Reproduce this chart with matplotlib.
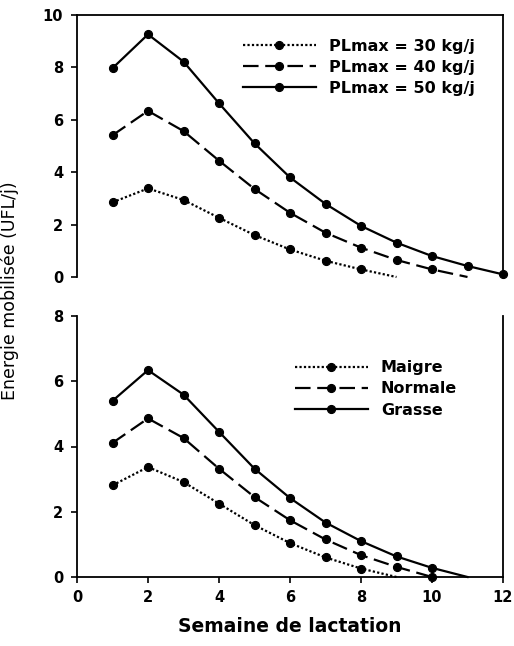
import matplotlib
matplotlib.use("Agg")
import matplotlib.pyplot as plt

# ---- data ----
top_labels = ["PLmax = 30 kg/j", "PLmax = 40 kg/j", "PLmax = 50 kg/j"]
top_x30 = [1, 2, 3, 4, 5, 6, 7, 8, 9]
top_y30 = [2.85, 3.38, 2.94, 2.26, 1.60, 1.05, 0.62, 0.29, 0.0]
top_x40 = [1, 2, 3, 4, 5, 6, 7, 8, 9, 10, 11]
top_y40 = [5.41, 6.34, 5.57, 4.44, 3.36, 2.45, 1.69, 1.12, 0.65, 0.29, 0.0]
top_x50 = [1, 2, 3, 4, 5, 6, 7, 8, 9, 10, 11, 12]
top_y50 = [7.97, 9.26, 8.22, 6.63, 5.10, 3.80, 2.79, 1.95, 1.31, 0.80, 0.42, 0.10]

bot_labels = ["Maigre", "Normale", "Grasse"]
bot_xm = [1, 2, 3, 4, 5, 6, 7, 8, 9]
bot_ym = [2.81, 3.37, 2.91, 2.25, 1.59, 1.04, 0.60, 0.26, 0.0]
bot_xn = [1, 2, 3, 4, 5, 6, 7, 8, 9, 10]
bot_yn = [4.11, 4.86, 4.26, 3.32, 2.45, 1.74, 1.15, 0.67, 0.31, 0.0]
bot_xg = [1, 2, 3, 4, 5, 6, 7, 8, 9, 10, 11]
bot_yg = [5.40, 6.34, 5.59, 4.45, 3.32, 2.42, 1.67, 1.10, 0.63, 0.28, 0.0]

xticks = [0, 2, 4, 6, 8, 10, 12]
top_yticks = [0, 2, 4, 6, 8, 10]
bot_yticks = [0, 2, 4, 6, 8]

# ---- style ----
BOLD = dict(family="DejaVu Sans", weight="bold")
styles = [(0, (1, 1)), (0, (7, 3)), "-"]
lw = 1.6
ms = 5.8

fig = plt.figure(figsize=(5.14, 6.46), dpi=100)
L, W = 77 / 514, (503 - 77) / 514
ax1 = fig.add_axes([L, 1 - 277 / 646, W, (277 - 15) / 646])
ax2 = fig.add_axes([L, 1 - 577 / 646, W, (577 - 316) / 646])


def draw(ax, xs, ys, ls, label, mark_last):
    idx = list(range(len(ys))) if mark_last else list(range(len(ys) - 1))
    ax.plot(xs, ys, linestyle=ls, color="black", lw=lw, marker="o", ms=ms,
            mew=0.8, markevery=idx, label=label, clip_on=False, zorder=3)


for xs, ys, ls, lab, mk in zip([top_x30, top_x40, top_x50], [top_y30, top_y40, top_y50],
                               styles, top_labels, [False, False, True]):
    draw(ax1, xs, ys, ls, lab, mk)

for xs, ys, ls, lab, mk in zip([bot_xm, bot_xn, bot_xg], [bot_ym, bot_yn, bot_yg],
                               styles, bot_labels, [False, True, False]):
    draw(ax2, xs, ys, ls, lab, mk)

for ax in (ax1, ax2):
    ax.set_xlim(0, 12)
    for s in ax.spines.values():
        s.set_linewidth(1.3)
    ax.tick_params(axis="y", direction="out", length=4, width=1.2, pad=6)
    ax.tick_params(axis="x", direction="out", length=4, width=1.2, pad=5)

ax1.set_ylim(0, 10)
ax1.set_yticks(top_yticks)
ax1.set_yticklabels([str(v) for v in top_yticks], fontsize=10.5, **BOLD)
ax1.spines["bottom"].set_visible(False)
ax1.set_xticks([])

ax2.set_ylim(0, 8)
ax2.set_yticks(bot_yticks)
ax2.set_yticklabels([str(v) for v in bot_yticks], fontsize=10.5, **BOLD)
ax2.set_xticks(xticks)
ax2.set_xticklabels([str(v) for v in xticks], fontsize=10.5, **BOLD)
ax2.spines["top"].set_visible(False)

leg_kw = dict(frameon=False, handlelength=4.6, handletextpad=0.8, labelspacing=0.38,
              prop=dict(family="DejaVu Sans", weight="bold", size=11.5))
ax1.legend(loc="upper left", bbox_to_anchor=(0.355, 0.965), **leg_kw)
ax2.legend(loc="upper left", bbox_to_anchor=(0.477, 0.885), **leg_kw)

ax2.set_xlabel("Semaine de lactation", fontsize=13.5, labelpad=9, **BOLD)
fig.text(10 / 514, 1 - 291 / 646, "Energie mobilisée (UFL/j)", rotation=90,
         ha="center", va="center", fontsize=12.5, family="DejaVu Sans")

fig.savefig("out.png", dpi=100)
